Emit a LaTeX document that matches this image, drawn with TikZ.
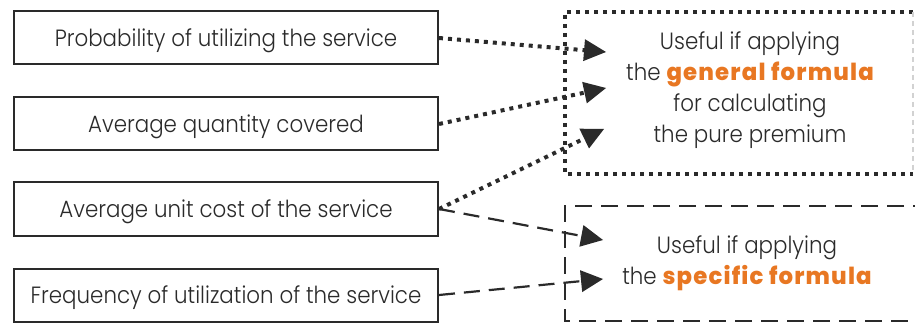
\documentclass[tikz,border=0pt]{standalone}
\usepackage{fontspec}
\setmainfont{Poppins}[UprightFont=* Light, BoldFont=* ExtraBold, FakeStretch=0.91]
\newfontfamily\heavyfont{Poppins}[UprightFont=* ExtraBold, LetterSpace=5, FakeStretch=0.97]
\usetikzlibrary{arrows.meta}
\definecolor{ink}{HTML}{2A2A2A}
\definecolor{accent}{HTML}{E87722}
\tikzset{
  x=1pt, y=-1pt,
  factor/.style={draw=ink, line width=2pt, minimum width=424pt, minimum height=53pt,
    inner sep=0pt, text height=19pt, text depth=2pt,
    font=\fontsize{23.5}{26}\selectfont, text=ink},
  note/.style={align=center, font=\fontsize{23.5}{31}\selectfont, text=ink},
  dotlink/.style={ink, line width=4pt, dash pattern=on 4pt off 5pt,
    -{Triangle[length=22pt,width=22pt,line width=0pt]}},
  dashlink/.style={ink, line width=2.2pt, dash pattern=on 16pt off 9pt,
    -{Triangle[length=22pt,width=22pt,line width=0pt]}},
  dotframe/.style={ink, line width=4pt, dash pattern=on 4pt off 5pt},
  dashframe/.style={ink, line width=2.2pt, dash pattern=on 17pt off 9pt},
}
\newcommand{\hot}[1]{\textcolor{accent}{\heavyfont #1}}
\begin{document}
\begin{tikzpicture}
\useasboundingbox (0,0) rectangle (915,323);
\clip (0,0) rectangle (915,323);

% frames on the right
\draw[dotframe] (913,12) -- (565,12) -- (565,174) -- (913,174);
\draw[gray!35, line width=1.5pt, dash pattern=on 5pt off 4pt] (913,12) -- (913,174);
\draw[dashframe] (930,206) -- (565,206) -- (565,321) -- (930,321);

% factor boxes
\node[factor] (p) at (226,38) {Probability of utilizing the service};
\node[factor] (q) at (226,124) {Average quantity covered};
\node[factor] (c) at (226,209) {Average unit cost of the service};
\node[factor] (f) at (226,295) {Frequency of utilization of the service};

% conclusions
\node[note] (g) at (750,90) {Useful if applying\\the {\hot{general formula}}\\for calculating\\the pure premium};
\node[note] (s) at (747,263) {Useful if applying\\the {\hot{specific formula}}};

% arrow targets
\coordinate (tg1) at (606,52);
\coordinate (tg2) at (606,88);
\coordinate (tg3) at (604,129);
\coordinate (ts1) at (603,240);
\coordinate (ts2) at (603,279);

\draw[dotlink] (p.east) -- (tg1);
\draw[dotlink] (q.east) -- (tg2);
\draw[dotlink] (c.east) -- (tg3);
\draw[dashlink] (c.east) -- (ts1);
\draw[dashlink] (f.east) -- (ts2);
\end{tikzpicture}
\end{document}
